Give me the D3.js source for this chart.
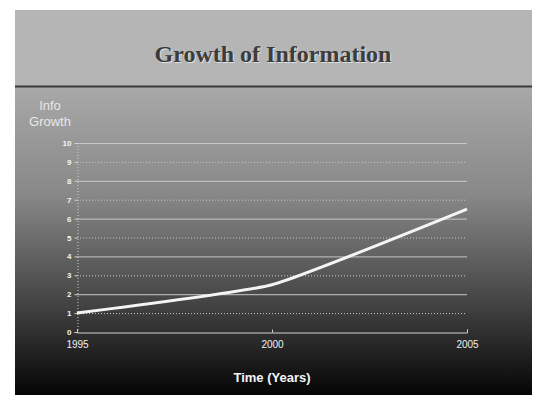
<!DOCTYPE html>
<html>
<head>
<meta charset="utf-8">
<script src="https://cdn.jsdelivr.net/npm/d3@7"></script>
<style>
  body { margin: 0; background: #fff; }
  svg { display: block; }
</style>
</head>
<body>
<div id="plot"></div>
<script>
// chart data
const years = [1995, 2000, 2005];
const growth = [1.0, 2.5, 6.5];
const yTicks = [0, 1, 2, 3, 4, 5, 6, 7, 8, 9, 10];

const w = 537;
const h = 395;
const frame = {left: 15, top: 10, right: 532, bottom: 395};
const margin = {top: 143, right: 70, bottom: 63, left: 77};
const innerWidth = w - margin.left - margin.right;
const innerHeight = h - margin.top - margin.bottom;

const svg = d3.select("div#plot")
  .append("svg")
  .attr("width", w)
  .attr("height", h);

const defs = svg.append("defs");
const grad = defs.append("linearGradient")
  .attr("id", "bg")
  .attr("x1", 0).attr("y1", 0)
  .attr("x2", 0).attr("y2", 1);
grad.append("stop").attr("offset", "0%").attr("stop-color", "#a8a8a8");
grad.append("stop").attr("offset", "35%").attr("stop-color", "#888888");
grad.append("stop").attr("offset", "70%").attr("stop-color", "#444444");
grad.append("stop").attr("offset", "100%").attr("stop-color", "#050505");

// background: light title band + dark gradient below
svg.append("rect")
  .attr("x", frame.left)
  .attr("y", frame.top)
  .attr("width", frame.right - frame.left)
  .attr("height", 77)
  .attr("fill", "#b5b5b5");

svg.append("rect")
  .attr("x", frame.left)
  .attr("y", 87)
  .attr("width", frame.right - frame.left)
  .attr("height", frame.bottom - 87)
  .attr("fill", "url(#bg)");

svg.append("line")
  .attr("x1", frame.left).attr("x2", frame.right)
  .attr("y1", 86.5).attr("y2", 86.5)
  .attr("stroke", "#3a3a3a")
  .attr("stroke-width", 2);

// title
svg.append("text")
  .attr("x", 274).attr("y", 63)
  .attr("text-anchor", "middle")
  .attr("font-family", "Liberation Serif, Times New Roman, serif")
  .attr("font-weight", "bold")
  .attr("font-size", 24)
  .attr("fill", "#e0e0e0")
  .text("Growth of Information");
svg.append("text")
  .attr("x", 273).attr("y", 62)
  .attr("text-anchor", "middle")
  .attr("font-family", "Liberation Serif, Times New Roman, serif")
  .attr("font-weight", "bold")
  .attr("font-size", 24)
  .attr("fill", "#3c3c3c")
  .text("Growth of Information");

const xScale = d3.scalePoint()
  .domain(years)
  .range([0, innerWidth]);

const yScale = d3.scaleLinear()
  .domain([0, 10])
  .range([innerHeight, 0]);

const g = svg.append("g")
  .attr("transform", `translate(${margin.left}, ${margin.top})`);

// gridlines
g.append("g")
  .selectAll("line")
  .data(yTicks.filter(d => d > 0))
  .enter().append("line")
  .attr("x1", 0).attr("x2", innerWidth)
  .attr("y1", d => yScale(d) + 0.5)
  .attr("y2", d => yScale(d) + 0.5)
  .attr("stroke", "#c8c8c8")
  .attr("stroke-width", 1)
  .attr("stroke-dasharray", (d, i) => i % 2 ? null : "1,2");

// axes
const xAxis = d3.axisBottom(xScale).tickSize(-3).tickPadding(8);
const yAxis = d3.axisLeft(yScale).tickValues(yTicks).tickSize(3).tickPadding(3);

const gx = g.append("g")
  .attr("transform", `translate(0, ${innerHeight + 0.5})`)
  .call(xAxis);
gx.select(".domain").attr("stroke", "#d0d0d0");
gx.selectAll(".tick line").attr("stroke", "#d0d0d0");
gx.selectAll(".tick text")
  .attr("fill", "#f0f0f0")
  .attr("font-family", "Liberation Sans, Arial, sans-serif")
  .attr("font-size", 10);

const gy = g.append("g")
  .attr("transform", "translate(0.5, 0)")
  .call(yAxis);
gy.select(".domain").attr("stroke", "#d0d0d0").attr("stroke-dasharray", "1,2");
gy.selectAll(".tick line").attr("stroke", "#d0d0d0");
gy.selectAll(".tick text")
  .attr("fill", "#f4f4f4")
  .attr("font-family", "Liberation Sans, Arial, sans-serif")
  .attr("font-weight", "bold")
  .attr("font-size", 8);

// line
const line = d3.line()
  .x((d, i) => xScale(years[i]))
  .y(d => yScale(d))
  .curve(d3.curveCardinal.tension(0.6));

g.append("path")
  .datum(growth)
  .attr("fill", "none")
  .attr("stroke", "#f4f4f4")
  .attr("stroke-width", 3)
  .attr("d", line);

// axis titles
svg.append("text")
  .attr("x", 50).attr("y", 110)
  .attr("text-anchor", "middle")
  .attr("font-family", "Liberation Sans, Arial, sans-serif")
  .attr("font-size", 13)
  .attr("fill", "#e8e8e8")
  .text("Info");
svg.append("text")
  .attr("x", 50).attr("y", 126)
  .attr("text-anchor", "middle")
  .attr("font-family", "Liberation Sans, Arial, sans-serif")
  .attr("font-size", 13)
  .attr("fill", "#e8e8e8")
  .text("Growth");

svg.append("text")
  .attr("x", margin.left + innerWidth / 2)
  .attr("y", 382)
  .attr("text-anchor", "middle")
  .attr("font-family", "Liberation Sans, Arial, sans-serif")
  .attr("font-weight", "bold")
  .attr("font-size", 13)
  .attr("fill", "#f4f4f4")
  .text("Time (Years)");
</script>
</body>
</html>
